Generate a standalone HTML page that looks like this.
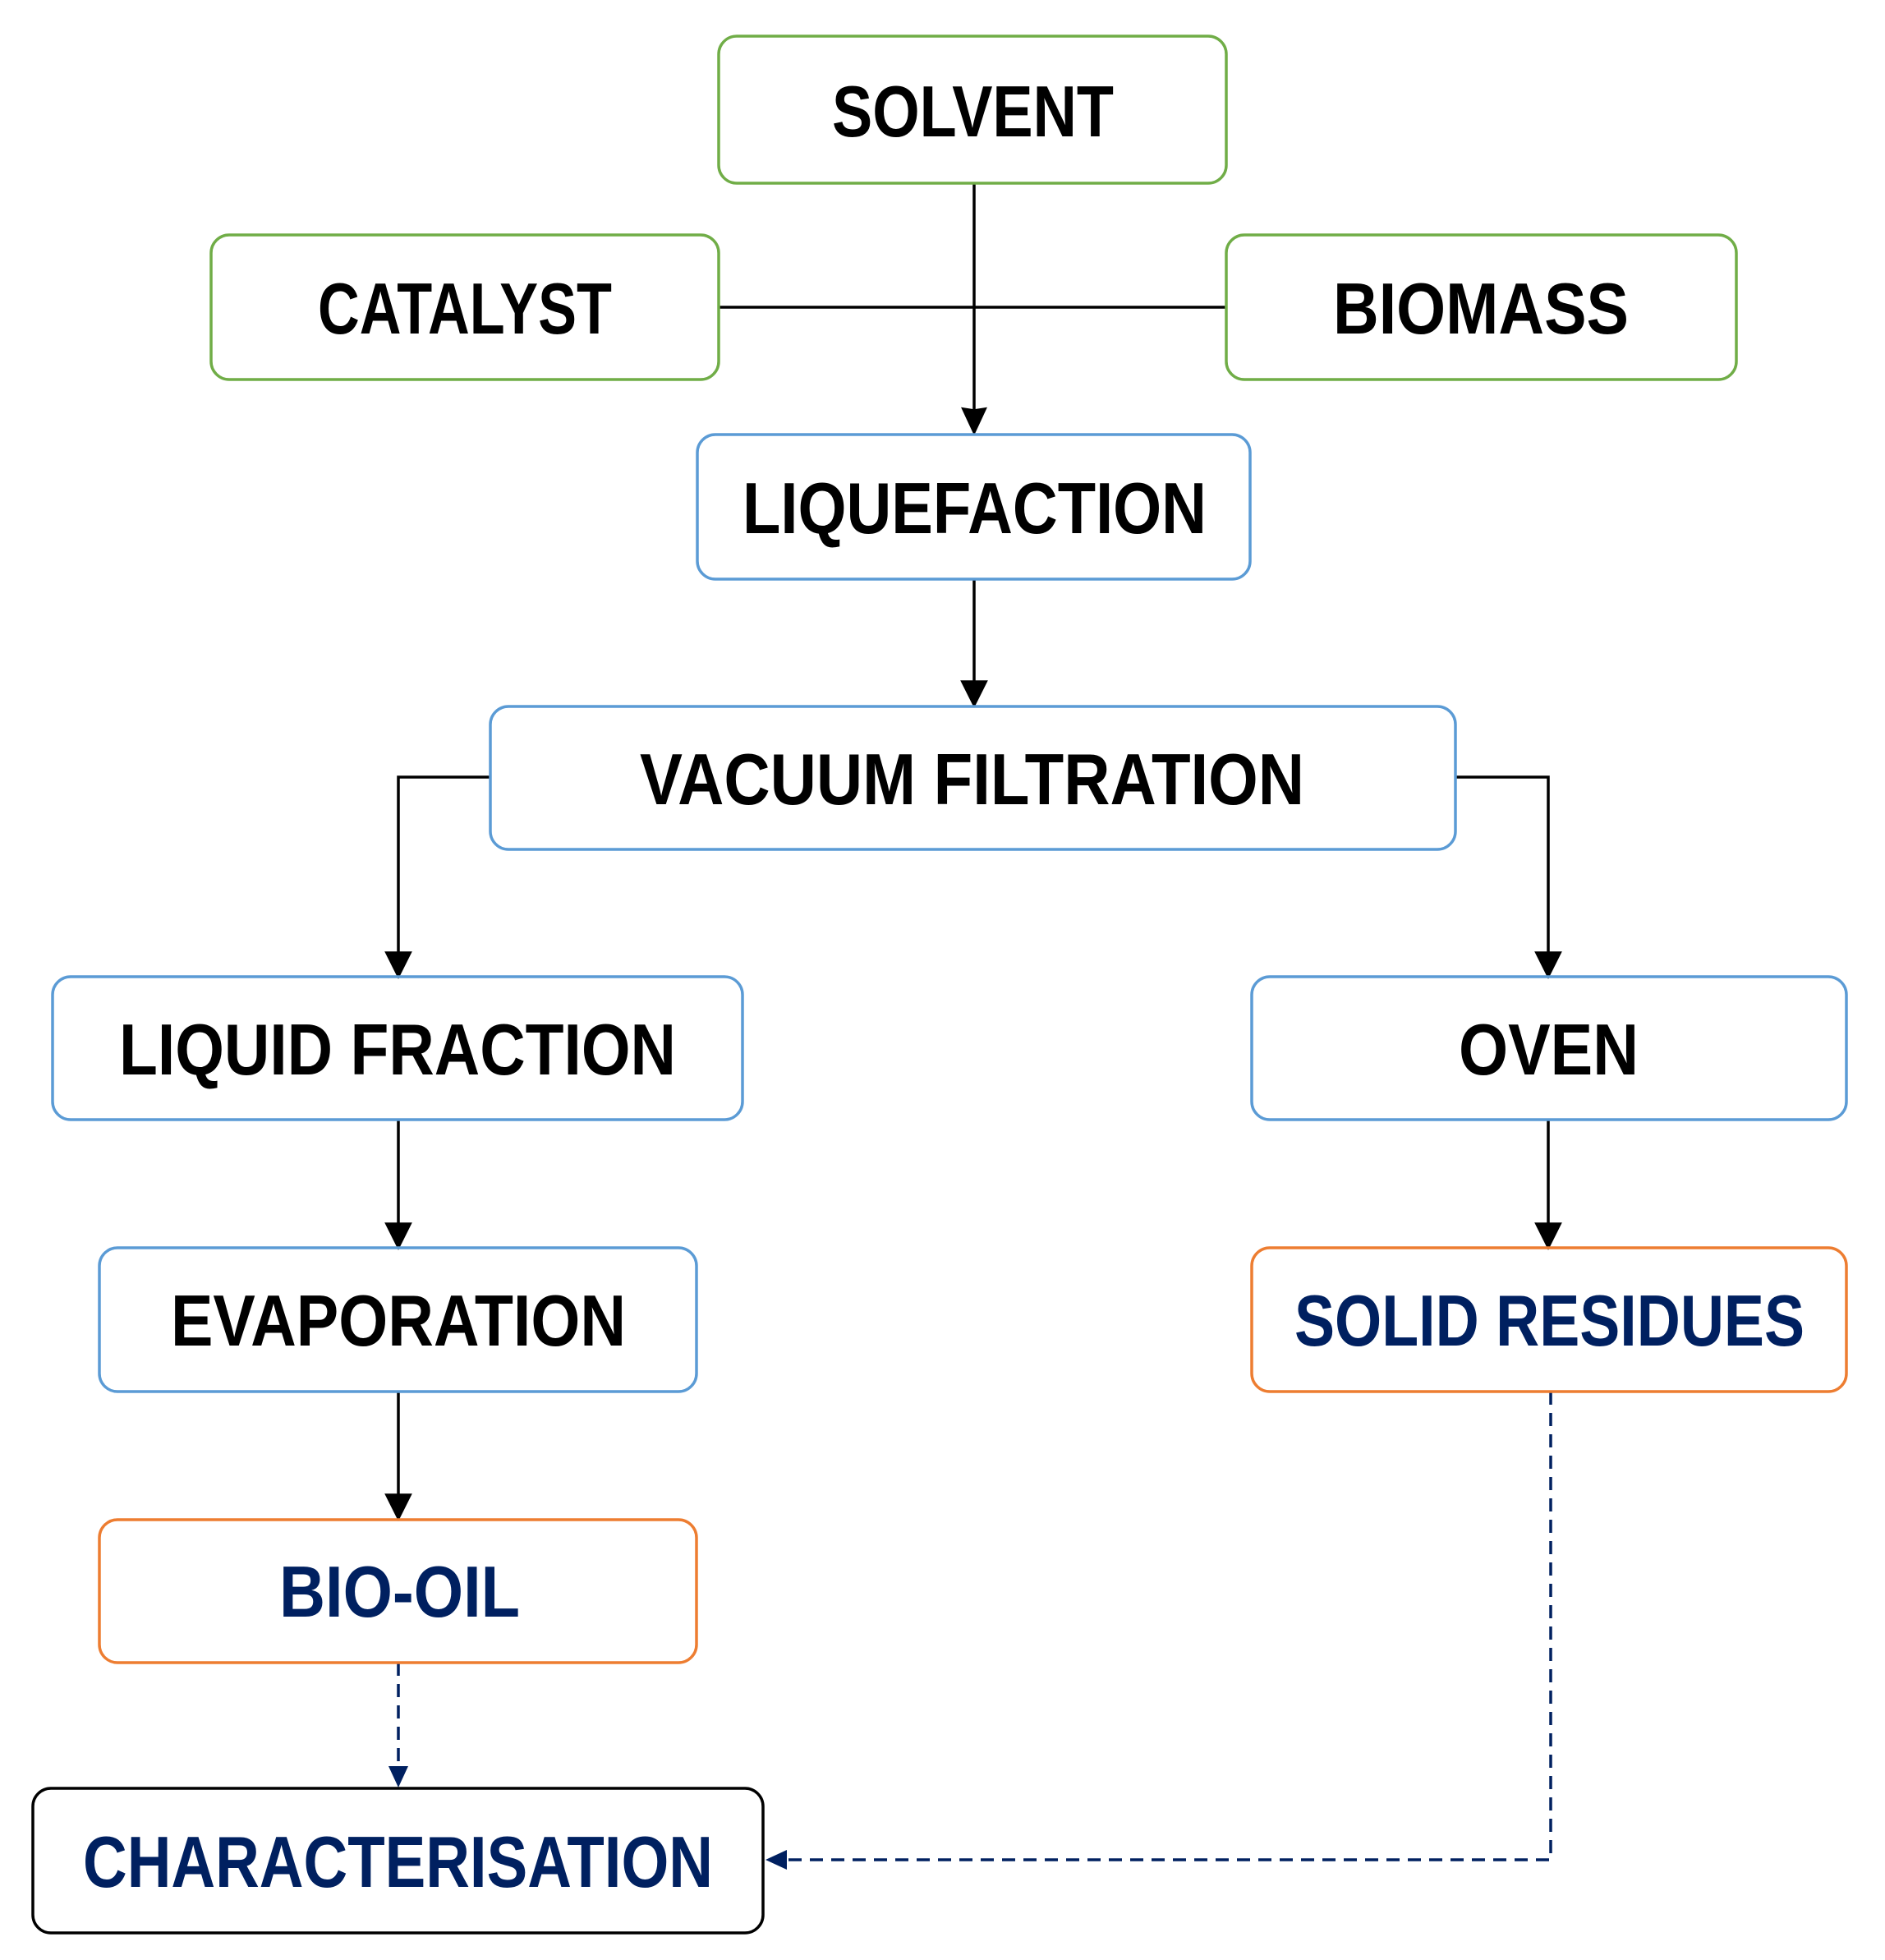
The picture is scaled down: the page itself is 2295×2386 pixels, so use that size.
<!DOCTYPE html>
<html><head><meta charset="utf-8"><style>html,body{margin:0;padding:0;background:#fff}svg{display:block}</style></head>
<body>
<svg width="2295" height="2386" viewBox="0 0 2295 2386" xmlns="http://www.w3.org/2000/svg">
<defs>
<marker id="ab" markerWidth="10" markerHeight="10" refX="9" refY="5" orient="auto" markerUnits="userSpaceOnUse" viewBox="0 0 10 10"><path d="M0,0 L10,5 L0,10 z" fill="#000"/></marker>
<marker id="an" markerWidth="10" markerHeight="10" refX="9" refY="5" orient="auto" markerUnits="userSpaceOnUse" viewBox="0 0 10 10"><path d="M0,0 L10,5 L0,10 z" fill="#002060"/></marker>
</defs>
<g fill="none" stroke-width="3.5">
<!-- connectors -->
<g stroke="#000">
<line x1="875" y1="374" x2="1493" y2="374"/>
<line x1="1186" y1="223" x2="1186" y2="500"/>
<path d="M1186 500 l-13 -2 l13 28 l13 -28 z" fill="#000"/>
<line x1="1186" y1="705" x2="1186" y2="832"/>
<path d="M1172 830 l14 28 l14 -28 z" fill="#000"/>
<polyline points="597,946 485,946 485,1162"/>
<path d="M471 1160 l14 28 l14 -28 z" fill="#000"/>
<polyline points="1772,946 1885,946 1885,1162"/>
<path d="M1871 1160 l14 28 l14 -28 z" fill="#000"/>
<line x1="485" y1="1363" x2="485" y2="1492"/>
<path d="M471 1490 l14 28 l14 -28 z" fill="#000"/>
<line x1="1885" y1="1363" x2="1885" y2="1492"/>
<path d="M1871 1490 l14 28 l14 -28 z" fill="#000"/>
<line x1="485" y1="1694" x2="485" y2="1822"/>
<path d="M471 1820 l14 28 l14 -28 z" fill="#000"/>
</g>
<g stroke="#002060" stroke-dasharray="16 10">
<line x1="485" y1="2024" x2="485" y2="2152"/>
<polyline points="1888,1694 1888,2264 958,2264"/>
</g>
<path d="M473 2150 l12 26 l12 -26 z" fill="#002060"/>
<path d="M958 2252 l-26 12 l26 12 z" fill="#002060"/>
<!-- boxes -->
<g stroke="#70AD47">
<rect x="875" y="44" width="618" height="179" rx="22"/>
<rect x="257" y="286" width="618" height="176" rx="22"/>
<rect x="1493" y="286" width="621" height="176" rx="22"/>
</g>
<g stroke="#5B9BD5">
<rect x="849" y="529" width="673" height="176" rx="22"/>
<rect x="597" y="860" width="1175" height="174" rx="22"/>
<rect x="64" y="1189" width="840" height="174" rx="22"/>
<rect x="1524" y="1189" width="724" height="174" rx="22"/>
<rect x="121" y="1519" width="727" height="175" rx="22"/>
</g>
<g stroke="#ED7D31">
<rect x="1524" y="1519" width="724" height="175" rx="22"/>
<rect x="121" y="1850" width="727" height="174" rx="22"/>
</g>
<rect x="40" y="2177" width="889" height="176" rx="22" stroke="#000"/>
</g>
<g font-family="Liberation Sans, sans-serif" font-weight="bold" font-size="88" lengthAdjust="spacingAndGlyphs">
<text x="1013" y="166" textLength="343" lengthAdjust="spacingAndGlyphs">SOLVENT</text>
<text x="387" y="406" textLength="358" lengthAdjust="spacingAndGlyphs">CATALYST</text>
<text x="1623" y="406" textLength="360" lengthAdjust="spacingAndGlyphs">BIOMASS</text>
<text x="904" y="649" textLength="565" lengthAdjust="spacingAndGlyphs">LIQUEFACTION</text>
<text x="779" y="979" textLength="809" lengthAdjust="spacingAndGlyphs">VACUUM FILTRATION</text>
<text x="145" y="1308" textLength="678" lengthAdjust="spacingAndGlyphs">LIQUID FRACTION</text>
<text x="1776" y="1308" textLength="219" lengthAdjust="spacingAndGlyphs">OVEN</text>
<text x="208" y="1638" textLength="554" lengthAdjust="spacingAndGlyphs">EVAPORATION</text>
<text x="1576" y="1638" textLength="621" lengthAdjust="spacingAndGlyphs" fill="#002060">SOLID RESIDUES</text>
<text x="340" y="1968" textLength="293" lengthAdjust="spacingAndGlyphs" fill="#002060">BIO-OIL</text>
<text x="101" y="2297" textLength="767" lengthAdjust="spacingAndGlyphs" fill="#002060">CHARACTERISATION</text>
</g>
</svg>
</body></html>
